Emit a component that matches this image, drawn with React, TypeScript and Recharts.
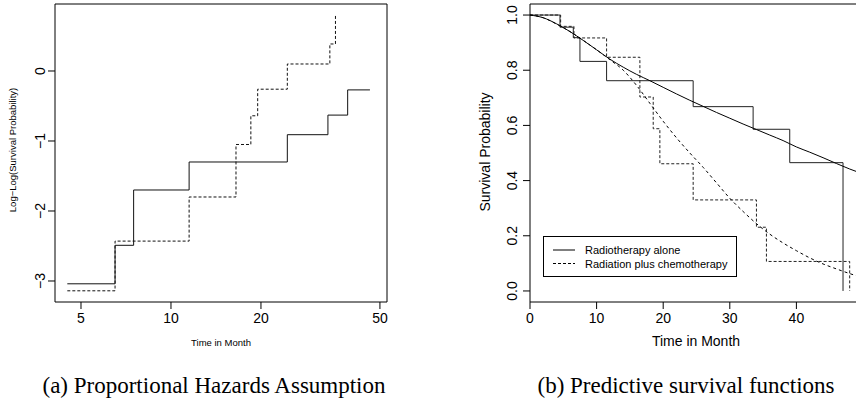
import { LineChart, Line, XAxis, YAxis, ReferenceArea, Legend } from "recharts";

const SANS = '"Liberation Sans", Arial, Helvetica, sans-serif';
const SERIF = '"Liberation Serif", "Times New Roman", serif';

const SERIES_A = "Radiotherapy alone";
const SERIES_B = "Radiation plus chemotherapy";

// (a) log(-log S) step curves, log time axis
const llTicksX = [5, 10, 20, 50];
const llTicksY = [-3, -2, -1, 0];
const llRadio = [
  { t: 4.5, v: -3.04 },
  { t: 6.5, v: -2.49 },
  { t: 7.5, v: -1.7 },
  { t: 11.5, v: -1.3 },
  { t: 24.5, v: -0.91 },
  { t: 33.5, v: -0.63 },
  { t: 39, v: -0.27 },
  { t: 46.3, v: -0.27 },
];
const llChemo = [
  { t: 4.5, v: -3.14 },
  { t: 6.5, v: -2.43 },
  { t: 11.5, v: -1.8 },
  { t: 16.5, v: -1.05 },
  { t: 18.5, v: -0.64 },
  { t: 19.5, v: -0.26 },
  { t: 24.5, v: 0.1 },
  { t: 34, v: 0.386 },
  { t: 35.5, v: 0.8 },
];

// (b) Kaplan-Meier steps and fitted survival curves
// the 50 tick sits just past the cropped right edge, so it is left out
const survTicksX = [0, 10, 20, 30, 40];
const survTicksY = [0, 0.2, 0.4, 0.6, 0.8, 1.0];
const kmRadio = [
  { t: 0, s: 1.0 },
  { t: 4.5, s: 0.956 },
  { t: 6.5, s: 0.918 },
  { t: 7.5, s: 0.832 },
  { t: 11.5, s: 0.762 },
  { t: 24.5, s: 0.668 },
  { t: 33.5, s: 0.586 },
  { t: 39, s: 0.465 },
  { t: 47, s: 0 },
];
const kmChemo = [
  { t: 0, s: 1.0 },
  { t: 4.6, s: 0.959 },
  { t: 6.6, s: 0.917 },
  { t: 11.5, s: 0.847 },
  { t: 16.5, s: 0.703 },
  { t: 18.5, s: 0.588 },
  { t: 19.5, s: 0.461 },
  { t: 24.5, s: 0.33 },
  { t: 34, s: 0.231 },
  { t: 35.5, s: 0.107 },
  { t: 48, s: 0 },
];
const fitTimes = [0, 2, 4, 6, 8, 10, 12, 14, 16, 18, 20, 22, 24, 26, 28, 30, 32, 34, 36, 38, 40, 42, 44, 46, 48, 50];
const fitRadio = [1.0, 0.99, 0.968, 0.94, 0.908, 0.874, 0.84, 0.811, 0.785, 0.762, 0.738, 0.714, 0.691, 0.669, 0.647, 0.626, 0.605, 0.585, 0.565, 0.545, 0.522, 0.503, 0.483, 0.462, 0.442, 0.424];
const fitChemo = [1.0, 0.99, 0.967, 0.94, 0.908, 0.874, 0.838, 0.8, 0.745, 0.68, 0.615, 0.555, 0.5, 0.448, 0.392, 0.336, 0.288, 0.244, 0.206, 0.174, 0.146, 0.12, 0.098, 0.08, 0.063, 0.048];

const fitRadioData = fitTimes.map((t, i) => ({ t, s: fitRadio[i] }));
const fitChemoData = fitTimes.map((t, i) => ({ t, s: fitChemo[i] }));

const LL_X: [number, number] = [4.093, 52.8];
const LL_Y: [number, number] = [-3.3, 0.957];
const SV_X: [number, number] = [0, 50];
const SV_Y: [number, number] = [-0.04, 1.04];

function XTick({ x, y, payload }: any) {
  return (
    <text x={x} y={y + 14} textAnchor="middle" fontSize={14} fontFamily={SANS} fill="#000">
      {payload.value}
    </text>
  );
}

function makeYTick(shift: number, fmt: (v: number) => string) {
  return ({ x, y, payload }: any) => {
    const cx = x - shift;
    return (
      <text
        x={cx}
        y={y}
        dy="0.35em"
        transform={`rotate(-90, ${cx}, ${y})`}
        textAnchor="middle"
        fontSize={14}
        fontFamily={SANS}
        fill="#000"
      >
        {fmt(payload.value)}
      </text>
    );
  };
}

const llYTick = makeYTick(8, (v) => (v < 0 ? "\u2212" + Math.abs(v) : String(v)));
const svYTick = makeYTick(11, (v) => v.toFixed(1));

function LegendBox() {
  return (
    <div style={{ width: 194, height: 41, border: "1px solid #000", boxSizing: "border-box", background: "#fff" }}>
      <svg width={192} height={39}>
        <line x1={9} x2={31} y1={13} y2={13} stroke="#000" strokeWidth={1} />
        <line x1={9} x2={31} y1={26.5} y2={26.5} stroke="#000" strokeWidth={1} strokeDasharray="3 2" />
        <text x={41} y={17} fontSize={11} fontFamily={SANS} fill="#000">{SERIES_A}</text>
        <text x={41} y={30.5} fontSize={11} fontFamily={SANS} fill="#000">{SERIES_B}</text>
      </svg>
    </div>
  );
}

function Rotated({ cx, cy, size, children }: any) {
  return (
    <div
      style={{
        position: "absolute",
        left: cx,
        top: cy,
        transform: "translate(-50%, -50%) rotate(-90deg)",
        whiteSpace: "nowrap",
        fontSize: size,
        fontFamily: SANS,
        lineHeight: 1,
      }}
    >
      {children}
    </div>
  );
}

function Centered({ cx, cy, size, font, children }: any) {
  return (
    <div
      style={{
        position: "absolute",
        left: cx,
        top: cy,
        transform: "translate(-50%, -50%)",
        whiteSpace: "nowrap",
        fontSize: size,
        fontFamily: font,
        lineHeight: 1,
      }}
    >
      {children}
    </div>
  );
}

export default function App() {
  return (
    <div
      style={{
        position: "absolute",
        left: 0,
        top: 0,
        width: 856,
        height: 403,
        overflow: "hidden",
        background: "#fff",
        color: "#000",
      }}
    >
      <div style={{ position: "absolute", left: 0, top: 0 }}>
        <LineChart width={420} height={330} margin={{ top: 4, right: 33, bottom: 0, left: 0 }}>
          <XAxis
            dataKey="t"
            type="number"
            scale="log"
            domain={LL_X}
            allowDataOverflow
            ticks={llTicksX}
            height={28}
            axisLine={false}
            tickSize={7}
            tickMargin={0}
            tickLine={{ stroke: "#000" }}
            tick={XTick}
          />
          <YAxis
            type="number"
            domain={LL_Y}
            allowDataOverflow
            ticks={llTicksY}
            width={55}
            axisLine={false}
            tickSize={7}
            tickMargin={0}
            tickLine={{ stroke: "#000" }}
            tick={llYTick}
          />
          <ReferenceArea x1={LL_X[0]} x2={LL_X[1]} y1={LL_Y[0]} y2={LL_Y[1]} fill="none" stroke="#000" strokeWidth={1} ifOverflow="visible" />
          <Line data={llRadio} dataKey="v" name={SERIES_A} type="stepAfter" stroke="#111" strokeWidth={1} dot={false} activeDot={false} isAnimationActive={false} />
          <Line data={llChemo} dataKey="v" name={SERIES_B} type="stepAfter" stroke="#111" strokeWidth={1} strokeDasharray="3 2" dot={false} activeDot={false} isAnimationActive={false} />
        </LineChart>
      </div>

      <div style={{ position: "absolute", left: 420, top: 0 }}>
        <LineChart width={460} height={330} margin={{ top: 4, right: 17, bottom: 0, left: 0 }}>
          <XAxis
            dataKey="t"
            type="number"
            domain={SV_X}
            allowDataOverflow
            ticks={survTicksX}
            height={28}
            axisLine={false}
            tickSize={7}
            tickMargin={0}
            tickLine={{ stroke: "#000" }}
            tick={XTick}
          />
          <YAxis
            type="number"
            domain={SV_Y}
            allowDataOverflow
            ticks={survTicksY}
            width={110}
            axisLine={false}
            tickSize={7}
            tickMargin={0}
            tickLine={{ stroke: "#000" }}
            tick={svYTick}
          />
          <ReferenceArea x1={SV_X[0]} x2={SV_X[1]} y1={SV_Y[0]} y2={SV_Y[1]} fill="none" stroke="#000" strokeWidth={1} ifOverflow="visible" />
          <Line data={kmRadio} dataKey="s" name={SERIES_A} type="stepAfter" stroke="#222" strokeWidth={1} dot={false} activeDot={false} isAnimationActive={false} />
          <Line data={kmChemo} dataKey="s" name={SERIES_B} type="stepAfter" stroke="#222" strokeWidth={1} strokeDasharray="3 2" dot={false} activeDot={false} isAnimationActive={false} />
          <Line data={fitRadioData} dataKey="s" name={SERIES_A + " (fit)"} type="monotone" stroke="#000" strokeWidth={1} dot={false} activeDot={false} isAnimationActive={false} legendType="none" />
          <Line data={fitChemoData} dataKey="s" name={SERIES_B + " (fit)"} type="monotone" stroke="#000" strokeWidth={1} strokeDasharray="3 3" dot={false} activeDot={false} isAnimationActive={false} legendType="none" />
          <Legend
            layout="vertical"
            align="center"
            verticalAlign="middle"
            content={LegendBox}
            wrapperStyle={{ left: 123, top: 236, width: 194, height: 41 }}
          />
        </LineChart>
      </div>

      <Rotated cx={13} cy={150} size={9.5}>Log−Log(Survival Probability)</Rotated>
      <Centered cx={221} cy={343} size={9.5} font={SANS}>Time in Month</Centered>
      <Rotated cx={485} cy={152} size={14}>Survival Probability</Rotated>
      <Centered cx={696} cy={341} size={14} font={SANS}>Time in Month</Centered>

      <Centered cx={214} cy={385} size={23} font={SERIF}>(a) Proportional Hazards Assumption</Centered>
      <Centered cx={686} cy={385} size={23} font={SERIF}>(b) Predictive survival functions</Centered>
    </div>
  );
}
